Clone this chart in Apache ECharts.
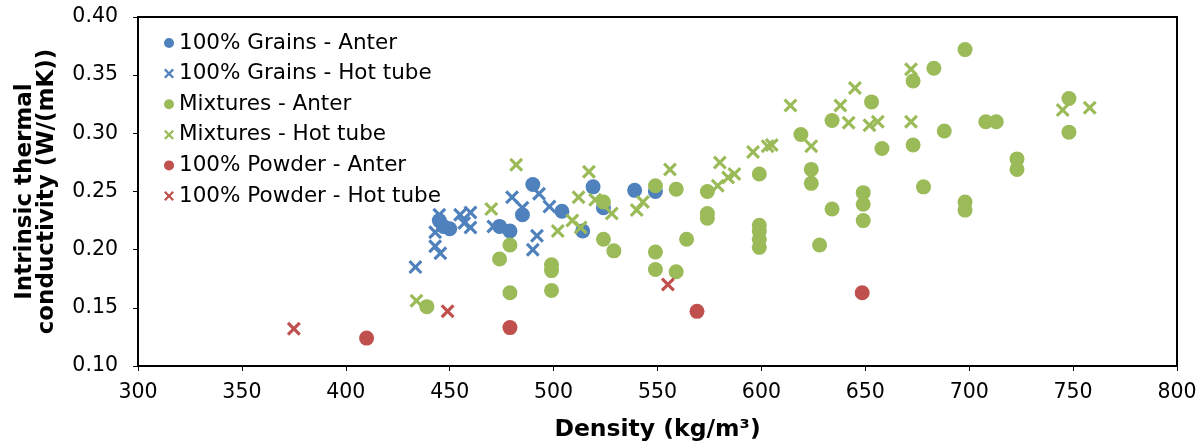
<!DOCTYPE html>
<html>
<head>
<meta charset="utf-8">
<script src="https://cdn.jsdelivr.net/npm/echarts@6/dist/echarts.min.js"></script>
<style>
html,body{margin:0;padding:0;background:#fff;}
#chart{width:1201px;height:447px;}
</style>
</head>
<body>
<div id="chart"></div>
<script>
// Data: [density kg/m3, conductivity W/(mK)]
var grainsAnter = [[445,0.225],[447,0.220],[450,0.218],[474,0.220],[479,0.216],[485,0.230],[490,0.256],[504,0.233],[514,0.216],[519,0.254],[524,0.236],[539,0.251],[549,0.250]];
var grainsHot = [[433.5,0.185],[443,0.203],[443,0.215],[445,0.230],[445.5,0.197],[455,0.230],[457,0.223],[460,0.232],[460,0.219],[471,0.220],[480,0.245],[485,0.236],[490,0.200],[492,0.212],[493,0.248],[498,0.237]];
var mixAnter = [[439,0.151],[474,0.192],[479,0.204],[479,0.163],[499,0.187],[499,0.182],[499,0.165],[524,0.241],[524,0.209],[529,0.199],[549,0.255],[549,0.198],[549,0.183],[559,0.252],[559,0.181],[564,0.209],[574,0.250],[574,0.231],[574,0.227],[599,0.265],[599,0.221],[599,0.216],[599,0.209],[599,0.202],[619,0.299],[624,0.269],[624,0.257],[628,0.204],[634,0.311],[634,0.235],[649,0.249],[649,0.239],[649,0.225],[653,0.327],[658,0.287],[673,0.345],[673,0.290],[678,0.254],[683,0.356],[688,0.302],[698,0.372],[698,0.241],[698,0.234],[708,0.310],[713,0.310],[723,0.278],[723,0.269],[748,0.330],[748,0.301]];
var mixHot = [[434,0.156],[470,0.235],[482,0.273],[502,0.216],[509,0.225],[513,0.219],[512,0.245],[517,0.267],[520,0.243],[528,0.231],[540,0.234],[543,0.241],[556,0.269],[579,0.255],[580,0.275],[584,0.262],[587,0.265],[596,0.284],[603,0.289],[605,0.290],[614,0.324],[624,0.289],[638,0.324],[642,0.309],[645,0.339],[652,0.307],[656,0.310],[672,0.355],[672,0.310],[745,0.320],[758,0.322]];
var powderAnter = [[410,0.124],[479,0.133],[569,0.147],[648.5,0.163]];
var powderHot = [[375,0.132],[449,0.147],[555,0.170]];

var seriesNames = ['100% Grains - Anter','100% Grains - Hot tube','Mixtures - Anter','Mixtures - Hot tube','100% Powder - Anter','100% Powder - Hot tube'];
var xTitle = 'Density (kg/m³)';
var yTitle = 'Intrinsic thermal\nconductivity (W/(mK))';

var BLUE = '#4F81BD', GREEN = '#9BBB59', RED = '#C0504D';
var XPATH = 'path://M1.6,0 L5,3.4 L8.4,0 L10,1.6 L6.6,5 L10,8.4 L8.4,10 L5,6.6 L1.6,10 L0,8.4 L3.4,5 L0,1.6 Z';
var FONT = 'DejaVu Sans';

function mk(name, data, color, isX) {
  return {
    name: name, type: 'scatter', data: data,
    symbol: isX ? XPATH : 'circle',
    symbolSize: isX ? 14 : 15,
    itemStyle: { color: color, opacity: 1 },
    emphasis: { disabled: true }
  };
}

var chart = echarts.init(document.getElementById('chart'));
chart.setOption({
  animation: false,
  backgroundColor: '#fff',
  grid: { left: 138, right: 24, top: 17, bottom: 79, show: true, borderColor: '#000', borderWidth: 2, backgroundColor: 'transparent' },
  legend: {
    orient: 'vertical', left: 159, top: 27,
    itemWidth: 10, itemHeight: 10, itemGap: 8.6,
    textStyle: { fontFamily: FONT, fontSize: 21.5, color: '#000', lineHeight: 20 },
    data: [
      { name: seriesNames[0], icon: 'circle' },
      { name: seriesNames[1], icon: XPATH },
      { name: seriesNames[2], icon: 'circle' },
      { name: seriesNames[3], icon: XPATH },
      { name: seriesNames[4], icon: 'circle' },
      { name: seriesNames[5], icon: XPATH }
    ]
  },
  xAxis: {
    type: 'value', min: 300, max: 800, interval: 50,
    name: xTitle, nameLocation: 'middle', nameGap: 52,
    nameTextStyle: { fontFamily: FONT, fontSize: 23.5, fontWeight: 'bold', color: '#000' },
    axisLine: { show: true, lineStyle: { color: '#000', width: 2 } },
    axisTick: { show: true, inside: false, length: 5, lineStyle: { color: '#000', width: 1 } },
    axisLabel: { fontFamily: FONT, fontSize: 20.5, color: '#000', margin: 16 },
    splitLine: { show: false }
  },
  yAxis: {
    type: 'value', min: 0.1, max: 0.4, interval: 0.05,
    name: yTitle, nameLocation: 'middle', nameGap: 80, nameRotate: 90,
    nameTextStyle: { fontFamily: FONT, fontSize: 23, fontWeight: 'bold', color: '#000', lineHeight: 22, align: 'center' },
    axisLine: { show: true, lineStyle: { color: '#000', width: 2 } },
    axisTick: { show: true, inside: false, length: 5, lineStyle: { color: '#000', width: 1 } },
    axisLabel: { fontFamily: FONT, fontSize: 20.5, color: '#000', margin: 20, formatter: function (v) { return v.toFixed(2); } },
    splitLine: { show: false }
  },
  series: [
    mk(seriesNames[0], grainsAnter, BLUE, false),
    mk(seriesNames[1], grainsHot, BLUE, true),
    mk(seriesNames[2], mixAnter, GREEN, false),
    mk(seriesNames[3], mixHot, GREEN, true),
    mk(seriesNames[4], powderAnter, RED, false),
    mk(seriesNames[5], powderHot, RED, true)
  ]
});
</script>
</body>
</html>
